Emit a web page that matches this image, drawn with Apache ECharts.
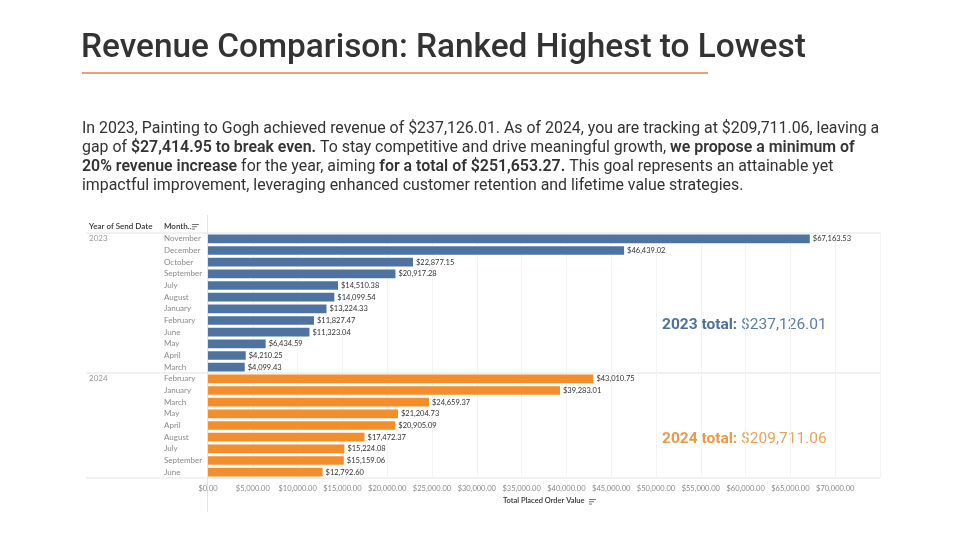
<!DOCTYPE html>
<html>
<head>
<meta charset="utf-8">
<script src="https://cdn.jsdelivr.net/npm/echarts@6/dist/echarts.min.js"></script>
<style>
  html, body { margin: 0; padding: 0; background: #fff; }
  #main { width: 960px; height: 540px; }
</style>
</head>
<body>
<div id="main"></div>
<script>
// ===== data =====
var years = ['2023', '2024'];
var months2023 = ['November', 'December', 'October', 'September', 'July', 'August', 'January', 'February', 'June', 'May', 'April', 'March'];
var values2023 = [67163.53, 46439.02, 22877.15, 20917.28, 14510.38, 14099.54, 13224.33, 11827.47, 11323.04, 6434.59, 4210.25, 4099.43];
var months2024 = ['February', 'January', 'March', 'May', 'April', 'August', 'July', 'September', 'June'];
var values2024 = [43010.75, 39283.01, 24659.37, 21204.73, 20905.09, 17472.37, 15224.08, 15159.06, 12792.60];
var totals = ['$237,126.01', '$209,711.06'];
var xTicks = { min: 0, max: 75000, step: 5000, lastLabel: 70000 };

// ===== layout =====
var gridLeft = 208, gridTop = 233, gridW = 672, gridH = 245;
var blue = '#4e73a0', orange = '#f28e2b';
var lineCol = '#e4e4e4';

function money(v) {
  return '$' + Number(v).toLocaleString('en-US', { minimumFractionDigits: 2, maximumFractionDigits: 2 });
}

// category keys are unique per year, labels stripped back to the month
var keys = [];
months2023.forEach(function (m) { keys.push('2023|' + m); });
months2024.forEach(function (m) { keys.push('2024|' + m); });
var pad2023 = values2024.map(function () { return '-'; });
var pad2024 = values2023.map(function () { return '-'; });

var myChart = echarts.init(document.getElementById('main'));

var rowH = gridH / keys.length;
var sepY = gridTop + months2023.length * rowH;

function sortIcon(x, y) {
  return [
    { type: 'rect', shape: { x: x, y: y, width: 7, height: 0.9 }, style: { fill: '#666' } },
    { type: 'rect', shape: { x: x, y: y + 2.3, width: 5, height: 0.9 }, style: { fill: '#666' } },
    { type: 'rect', shape: { x: x, y: y + 4.6, width: 3, height: 0.9 }, style: { fill: '#666' } }
  ];
}

var graphics = [
  // title + underline
  { type: 'text', left: 81, top: 32, style: { text: 'Revenue Comparison: Ranked Highest to Lowest', font: '500 33.4px Roboto', fill: '#333' } },
  { type: 'rect', shape: { x: 82, y: 72, width: 626, height: 2 }, style: { fill: '#f0a070' } },
  // paragraph
  { type: 'text', left: 82, top: 121, style: {
      text: '{n|In 2023, Painting to Gogh achieved revenue of $237,126.01. As of 2024, you are tracking at $209,711.06, leaving a}\n' +
            '{n|gap of }{b|$27,414.95 to break even.}{n| To stay competitive and drive meaningful growth, }{b|we propose a minimum of}\n' +
            '{b|20% revenue increase}{n| for the year, aiming }{b|for a total of $251,653.27.}{n| This goal represents an attainable yet}\n' +
            '{n|impactful improvement, leveraging enhanced customer retention and lifetime value strategies.}',
      rich: {
        n: { font: '400 15.9px Roboto', fill: '#333', lineHeight: 19 },
        b: { font: '600 15.9px Roboto', fill: '#333', lineHeight: 19 }
      }
  } },
  // table headers
  { type: 'text', left: 89, top: 222, style: { text: 'Year of Send Date', font: '600 8px Lato', fill: '#333' } },
  { type: 'text', left: 164, top: 222, style: { text: 'Month..', font: '600 8px Lato', fill: '#333' } },
  // structure lines
  { type: 'line', shape: { x1: 86, y1: gridTop, x2: gridLeft + gridW, y2: gridTop }, style: { stroke: lineCol, lineWidth: 1 } },
  { type: 'line', shape: { x1: 86, y1: sepY, x2: gridLeft + gridW, y2: sepY }, style: { stroke: lineCol, lineWidth: 1 } },
  { type: 'line', shape: { x1: 86, y1: gridTop + gridH, x2: gridLeft + gridW, y2: gridTop + gridH }, style: { stroke: lineCol, lineWidth: 1 } },
  { type: 'line', shape: { x1: gridLeft - 0.5, y1: 215, x2: gridLeft - 0.5, y2: 512 }, style: { stroke: lineCol, lineWidth: 1 } },
  // axis title
  { type: 'text', left: 503, top: 497, style: { text: 'Total Placed Order Value', font: '600 7.5px Lato', fill: '#333' } },
  // totals
  { type: 'text', left: 662, top: 317, style: {
      text: '{b|' + years[0] + ' total: }{n|' + totals[0] + '}',
      rich: { b: { font: '700 15.5px Roboto', fill: '#4f7298' }, n: { font: '400 15.5px Roboto', fill: '#5d7ea3' } }
  } },
  { type: 'text', left: 662, top: 431, style: {
      text: '{b|' + years[1] + ' total: }{n|' + totals[1] + '}',
      rich: { b: { font: '700 15.5px Roboto', fill: '#e99a48' }, n: { font: '400 15.5px Roboto', fill: '#eaa25a' } }
  } }
].concat(sortIcon(192, 224)).concat(sortIcon(589, 499));

var labelStyle = {
  show: true,
  position: 'right',
  distance: 3,
  fontSize: 7.5,
  fontFamily: 'Lato',
  color: '#333',
  formatter: function (p) { return money(p.value); }
};

var option = {
  animation: false,
  grid: { left: gridLeft, top: gridTop, width: gridW, height: gridH, containLabel: false },
  xAxis: {
    type: 'value',
    min: xTicks.min,
    max: xTicks.max,
    interval: xTicks.step,
    axisLine: { show: false },
    axisTick: { show: false },
    splitLine: { show: true, lineStyle: { color: '#f3f3f3', width: 1 } },
    axisLabel: {
      fontSize: 7.5, fontFamily: 'Lato', color: '#8a8a8a', margin: 7,
      formatter: function (v) { return v > xTicks.lastLabel ? '' : money(v); }
    }
  },
  yAxis: [
    {
      type: 'category',
      data: keys,
      inverse: true,
      axisLine: { show: false },
      axisTick: { show: false },
      axisLabel: {
        interval: 0, align: 'left', margin: gridLeft - 164,
        fontSize: 8, fontFamily: 'Lato', color: '#8a8a8a',
        formatter: function (v) { return v.split('|')[1]; }
      }
    },
    {
      type: 'category',
      data: keys,
      inverse: true,
      position: 'left',
      axisLine: { show: false },
      axisTick: { show: false },
      axisLabel: {
        interval: 0, align: 'left', margin: gridLeft - 89,
        fontSize: 8, fontFamily: 'Lato', color: '#9a9a9a',
        formatter: function (v, i) { return (i === 0 || i === months2023.length) ? v.split('|')[0] : ''; }
      }
    }
  ],
  series: [
    {
      name: years[0], type: 'bar', yAxisIndex: 0,
      data: values2023.concat(pad2023),
      itemStyle: { color: blue },
      barGap: '-100%', barCategoryGap: '26%',
      label: labelStyle
    },
    {
      name: years[1], type: 'bar', yAxisIndex: 0,
      data: pad2024.concat(values2024),
      itemStyle: { color: orange },
      barGap: '-100%', barCategoryGap: '26%',
      label: labelStyle
    }
  ],
  graphic: graphics
};

myChart.setOption(option);
</script>
</body>
</html>
